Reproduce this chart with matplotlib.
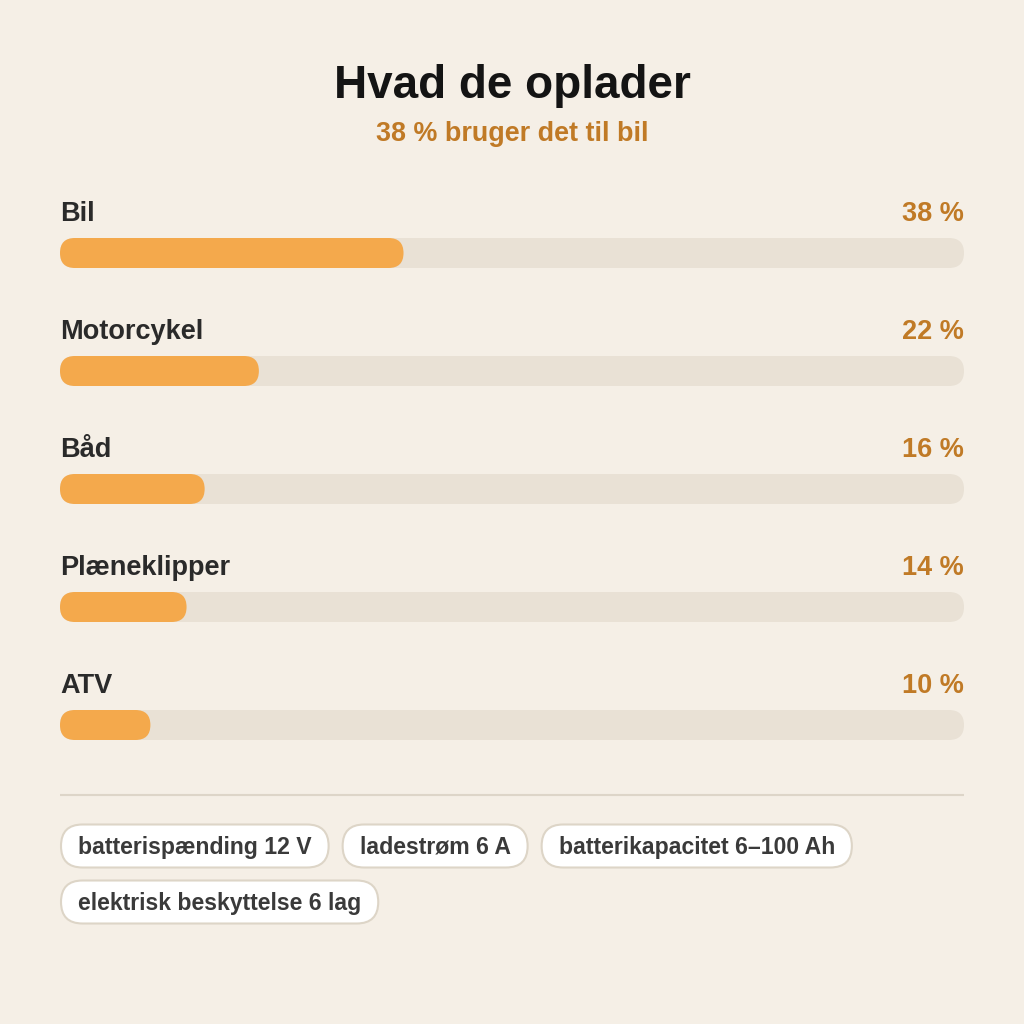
import matplotlib
matplotlib.use('Agg')
import matplotlib.pyplot as plt
from matplotlib.patches import FancyBboxPatch

# ---- data ----
categories = ['Bil', 'Motorcykel', 'Båd', 'Plæneklipper', 'ATV']
values = [38, 22, 16, 14, 10]
value_labels = ['38 %', '22 %', '16 %', '14 %', '10 %']
title = 'Hvad de oplader'
subtitle = '38 % bruger det til bil'
chips = ['batterispænding 12 V', 'ladestrøm 6 A', 'batterikapacitet 6–100 Ah',
         'elektrisk beskyttelse 6 lag']

# ---- style ----
FONT = 'Liberation Sans'
plt.rcParams['font.family'] = FONT
BG = '#f5efe6'
TRACK = '#e9e1d5'
FILL = '#f4a94c'
ACCENT = '#c07a26'
DARK = '#2a2a2a'
W = H = 1024

fig = plt.figure(figsize=(10.24, 10.24), dpi=100, facecolor=BG)

ov = fig.add_axes([0, 0, 1, 1])
ov.set_xlim(0, W)
ov.set_ylim(H, 0)
ov.axis('off')

ov.text(512, 98, title, ha='center', va='baseline', fontsize=33, family=FONT,
        fontweight='bold', color='#141414')
ov.text(512, 141, subtitle, ha='center', va='baseline', fontsize=19.4, family=FONT,
        fontweight='bold', color=ACCENT)

# ---- bars ----
L, R = 60, 964
top, rowh = 194, 118
n = len(categories)
ax = fig.add_axes([L / W, 1 - (top + rowh * n) / H, (R - L) / W, rowh * n / H])
ax.set_xlim(0, 100)
ax.set_ylim(n, 0)
ax.axis('off')

px_x = (R - L) / 100.0          # px per x unit
bar_h = 30 / rowh               # in y units
rad = 15 / px_x                 # rounding radius in x units
asp = px_x / rowh               # y-units per x-unit for equal px

for i, (cat, v, lab) in enumerate(zip(categories, values, value_labels)):
    yc = i + 59 / rowh
    ax.add_patch(FancyBboxPatch((0, yc - bar_h / 2), 100, bar_h,
                                boxstyle=f'round,pad=0,rounding_size={rad}',
                                mutation_aspect=asp, fc=TRACK, ec='none',
                                clip_on=False))
    ax.add_patch(FancyBboxPatch((0, yc - bar_h / 2), v, bar_h,
                                boxstyle=f'round,pad=0,rounding_size={rad}',
                                mutation_aspect=asp, fc=FILL, ec='none',
                                clip_on=False))
    yb = i + 27 / rowh
    ax.text(0, yb, cat, ha='left', va='baseline', fontsize=19.5, family=FONT,
            fontweight='bold', color=DARK, clip_on=False)
    ax.text(100, yb, lab, ha='right', va='baseline', fontsize=19.5, family=FONT,
            fontweight='bold', color=ACCENT, clip_on=False)

# ---- separator ----
ov.plot([L, R], [795, 795], color='#ddd5c8', lw=1.5, solid_capstyle='butt')

# ---- chips ----
fig.canvas.draw()
renderer = fig.canvas.get_renderer()
padx, chip_h, gap = 17, 43, 14
x = L
row_centers = [846, 902]
row = 0
for c in chips:
    t = ov.text(0, 0, c, fontsize=16.6, fontweight='bold', color='#3a3a3a',
                family=FONT, ha='left', va='baseline')
    tw = t.get_window_extent(renderer).width
    cw = tw + 2 * padx
    if x + cw > R:
        row += 1
        x = L
    yc = row_centers[row]
    ov.add_patch(FancyBboxPatch((x + 1, yc - chip_h / 2), cw, chip_h,
                                boxstyle=f'round,pad=0,rounding_size={chip_h/2}',
                                fc='white', ec='#ddd5c7', lw=1.5))
    t.set_position((x + 1 + padx, yc + 8))
    x += cw + gap

fig.savefig('out.png', dpi=100, facecolor=BG)
